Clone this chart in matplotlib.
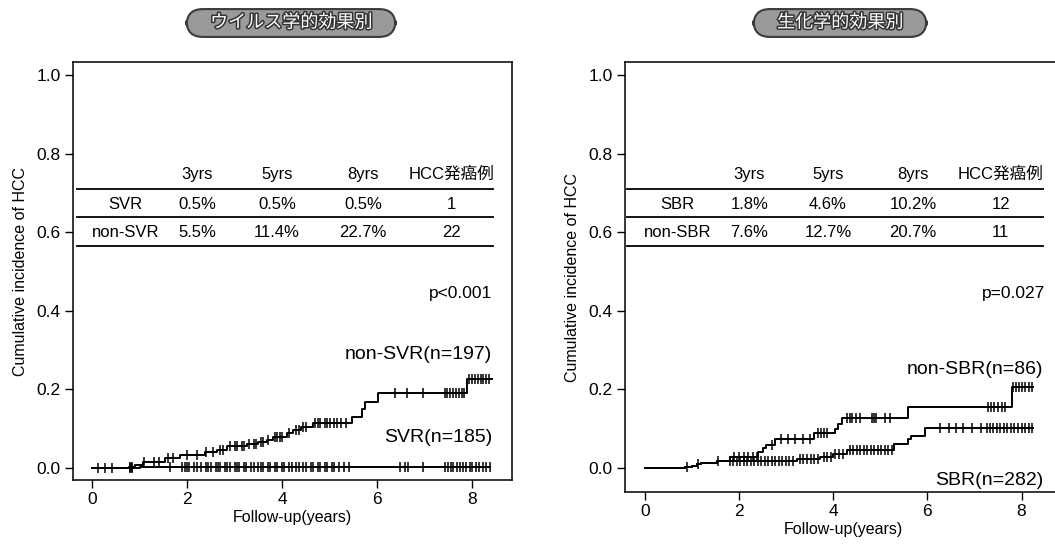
import matplotlib
matplotlib.use('Agg')
import numpy as np
import matplotlib.pyplot as plt
import matplotlib.patheffects as pe

plt.rcParams['font.family'] = ['Liberation Sans', 'Noto Sans CJK JP']

# ---------------- data ----------------
titles = ['ウイルス学的効果別', '生化学的効果別']
table_cols = ['3yrs', '5yrs', '8yrs', 'HCC発癌例']

left_rows = ['SVR', 'non-SVR']
left_table = [['0.5%', '0.5%', '0.5%', '1'],
              ['5.5%', '11.4%', '22.7%', '22']]
right_rows = ['SBR', 'non-SBR']
right_table = [['1.8%', '4.6%', '10.2%', '12'],
               ['7.6%', '12.7%', '20.7%', '11']]
p_texts = ['p<0.001', 'p=0.027']
left_labels = ['non-SVR(n=197)', 'SVR(n=185)']
right_labels = ['non-SBR(n=86)', 'SBR(n=282)']

xticks = [0, 2, 4, 6, 8]
yticks = [0.0, 0.2, 0.4, 0.6, 0.8, 1.0]

# non-SVR step curve
nonsvr_t = [0, 0.78, 0.9, 1.07, 1.54, 1.85, 2.38, 2.63, 2.84, 3.26, 3.5, 3.68, 3.81,
            4.1, 4.23, 4.4, 4.65, 5.47, 5.68, 5.75, 6.02, 7.89, 8.42]
nonsvr_v = [0, 0.003, 0.008, 0.015, 0.025, 0.033, 0.04, 0.046, 0.055, 0.061, 0.066, 0.072, 0.08,
            0.088, 0.097, 0.104, 0.114, 0.131, 0.149, 0.167, 0.19, 0.227, 0.227]
nonsvr_cens = [0.13, 0.27, 0.42, 0.8, 0.85, 1.1, 1.3, 1.4, 1.6, 1.7, 2.0, 2.2, 2.4, 2.55, 2.7,
               2.75, 2.9, 3.0, 3.05, 3.15, 3.2, 3.3, 3.4, 3.45, 3.55, 3.6, 3.7, 3.85, 3.9, 3.95,
               4.0, 4.15, 4.3, 4.35, 4.45, 4.5, 4.7, 4.75, 4.8, 4.9, 4.95, 5.0, 5.1, 5.15, 5.25,
               5.35, 6.38, 6.63, 6.97, 7.42, 7.48, 7.54, 7.6, 7.66, 7.72, 7.78, 7.84, 7.94, 8.0,
               8.06, 8.12, 8.18, 8.24, 8.3, 8.36]

# SVR step curve
svr_t = [0, 1.0, 8.38]
svr_v = [0, 0.003, 0.003]
svr_cens = [0.8, 0.85, 1.64, 1.9, 1.95, 2.0, 2.05, 2.15, 2.2, 2.3, 2.4, 2.45, 2.5, 2.6, 2.65,
            2.7, 2.8, 2.85, 2.9, 3.0, 3.05, 3.1, 3.2, 3.25, 3.35, 3.4, 3.5, 3.55, 3.6, 3.7,
            3.75, 3.85, 3.9, 4.0, 4.05, 4.15, 4.2, 4.3, 4.35, 4.45, 4.5, 4.6, 4.65, 4.75, 4.8,
            4.9, 4.95, 5.05, 5.1, 5.2, 5.3, 5.4, 6.48, 6.59, 6.65, 6.97, 7.43, 7.5, 7.55, 7.6,
            7.68, 7.75, 7.8, 7.88, 7.95, 8.0, 8.08, 8.15, 8.22, 8.3, 8.38]

# non-SBR step curve
nonsbr_t = [0, 0.85, 1.0, 1.1, 1.2, 1.53, 1.8, 2.4, 2.51, 2.58, 2.76, 3.6, 4.03, 4.1, 4.18,
            5.58, 7.79, 8.24]
nonsbr_v = [0, 0.003, 0.006, 0.01, 0.013, 0.018, 0.028, 0.041, 0.051, 0.059, 0.074, 0.088,
            0.1, 0.113, 0.127, 0.155, 0.207, 0.207]
nonsbr_cens = [0.89, 1.12, 1.55, 1.9, 2.0, 2.1, 2.2, 2.3, 2.38, 2.7, 2.9, 3.05, 3.2, 3.35,
               3.5, 3.68, 3.75, 3.8, 3.87, 4.3, 4.35, 4.4, 4.48, 4.56, 4.82, 4.86, 4.9, 5.1,
               5.2, 7.28, 7.35, 7.42, 7.5, 7.58, 7.65, 7.82, 7.88, 7.95, 8.0, 8.08, 8.15, 8.22]

# SBR step curve
sbr_t = [0, 0.85, 1.0, 1.1, 1.2, 1.53, 3.23, 3.72, 4.0, 4.29, 5.3, 5.58, 5.66, 5.95, 8.24]
sbr_v = [0, 0.003, 0.006, 0.01, 0.013, 0.018, 0.022, 0.028, 0.035, 0.046, 0.062, 0.074,
         0.082, 0.102, 0.102]
sbr_cens = [1.8, 1.87, 1.95, 2.02, 2.1, 2.17, 2.25, 2.32, 2.4, 2.47, 2.55, 2.62, 2.7, 2.77,
            2.85, 2.92, 3.0, 3.07, 3.15, 3.3, 3.37, 3.45, 3.52, 3.6, 3.67, 3.8, 3.87, 3.95,
            4.05, 4.12, 4.2, 4.35, 4.42, 4.5, 4.57, 4.65, 4.72, 4.8, 4.87, 4.95, 5.02, 5.1,
            5.17, 5.25, 6.26, 6.45, 6.6, 6.75, 6.95, 7.15, 7.26, 7.33, 7.4, 7.47, 7.55, 7.62,
            7.7, 7.77, 7.85, 7.92, 8.0, 8.07, 8.15, 8.22]


def step_at(ts, vs, c):
    idx = np.searchsorted(np.asarray(ts), c, side='right') - 1
    return np.asarray(vs)[np.clip(idx, 0, len(vs) - 1)]


def draw_curve(ax, ts, vs, cens):
    ax.step(ts, vs, where='post', color='black', lw=1.4, zorder=3)
    cy = [step_at(ts, vs, c) for c in cens]
    ax.plot(cens, cy, ls='none', marker='|', ms=7, mew=1.1, color='black', zorder=4)


fig = plt.figure(figsize=(10.55, 5.45), dpi=100)
W, H = 1055, 545

# y-scale: 0.0 at y=468 px, 1.0 at y=75 px (393 px per unit)
PX = 393.0
l_bot, r_bot, top = 480, 492, 62
ax_l = fig.add_axes([73 / W, (H - l_bot) / H, (512 - 73) / W, (l_bot - top) / H])
ax_r = fig.add_axes([625 / W, (H - r_bot) / H, (1062 - 625) / W, (r_bot - top) / H])
ylims = [(-(l_bot - 468) / PX, (468 - top) / PX), (-(r_bot - 468) / PX, (468 - top) / PX)]

col_x = [2.22, 3.89, 5.7, 7.56]
row_label_x = 0.7
header_y = 0.747
row_y = [0.671, 0.6]
hline_y = [0.709, 0.638, 0.564]

panels = [
    (ax_l, left_rows, left_table, p_texts[0], left_labels,
     [(nonsvr_t, nonsvr_v, nonsvr_cens), (svr_t, svr_v, svr_cens)],
     (-0.40, 8.84), (-0.32, 8.44),
     [(8.42, 0.288), (8.42, 0.077)], (8.42, 0.445), ylims[0]),
    (ax_r, right_rows, right_table, p_texts[1], right_labels,
     [(nonsbr_t, nonsbr_v, nonsbr_cens), (sbr_t, sbr_v, sbr_cens)],
     (-0.42, 8.86), (-0.38, 8.45),
     [(8.47, 0.25), (8.47, -0.033)], (8.5, 0.445), ylims[1]),
]

for ax, rows, table, ptxt, labels, curves, xlim, lx, lab_pos, p_pos, yl_ in panels:
    ax.set_xlim(*xlim)
    ax.set_ylim(*yl_)
    ax.set_xticks(xticks)
    ax.set_xticklabels([str(x) for x in xticks])
    ax.set_yticks(yticks)
    ax.set_yticklabels([f'{y:.1f}' for y in yticks])
    ax.tick_params(direction='out', length=6, width=1, labelsize=12.5, pad=3)
    for s in ax.spines.values():
        s.set_linewidth(1.1)
    ax.set_xlabel('Follow-up(years)', fontsize=11.5, labelpad=2)
    ax.set_ylabel('Cumulative incidence of HCC', fontsize=11.5, labelpad=6)

    # table
    for c, txt in zip(col_x, table_cols):
        ax.text(c, header_y, txt, ha='center', va='center', fontsize=12)
    for yl in hline_y:
        ax.plot(lx, [yl, yl], color='black', lw=1.3)
    for ry, rname, rvals in zip(row_y, rows, table):
        ax.text(row_label_x, ry, rname, ha='center', va='center', fontsize=12)
        for c, v in zip(col_x, rvals):
            ax.text(c, ry, v, ha='center', va='center', fontsize=12)

    ax.text(p_pos[0], p_pos[1], ptxt, ha='right', va='center', fontsize=12.5)

    for (ts, vs, cens) in curves:
        draw_curve(ax, ts, vs, cens)
    for (px, py), lab in zip(lab_pos, labels):
        ax.text(px, py, lab, ha='right', va='center', fontsize=14)

# title boxes
for cx, title in zip([291 / W, 840 / W], titles):
    fig.text(cx, 1 - 23 / H, '　' + title + '　', ha='center', va='center', fontsize=13,
             color='white',
             path_effects=[pe.withStroke(linewidth=2.2, foreground='#333333')],
             bbox=dict(boxstyle='round,pad=0.3,rounding_size=0.9', fc='#9a9a9a',
                       ec='#3a3a3a', lw=1.5))

fig.savefig('out.png', dpi=100)
